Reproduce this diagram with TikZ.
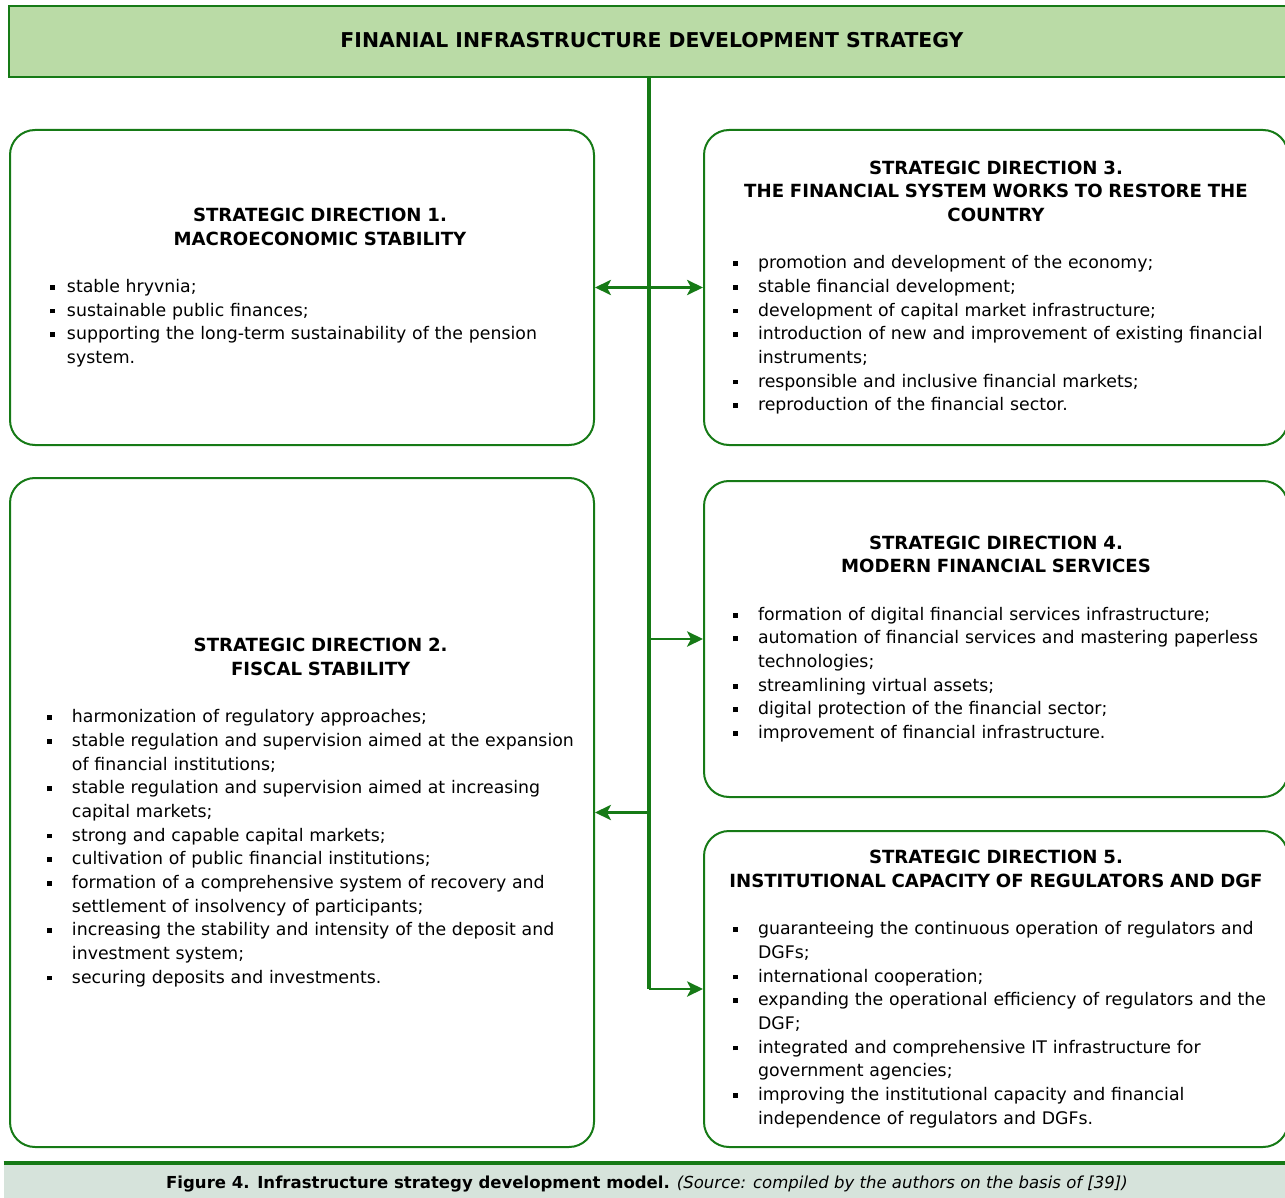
\documentclass[tikz,border=0pt]{standalone}
\usepackage{fontspec}
\setmainfont{DejaVu Sans}
\usetikzlibrary{arrows.meta}

\definecolor{dgreen}{RGB}{22,122,22}
\definecolor{titlefill}{RGB}{186,219,166}
\definecolor{capfill}{RGB}{214,227,219}

% small square bullet and list lines
\newcommand{\bul}{\rule[2pt]{3.6pt}{3.6pt}}
\newcommand{\sqitem}[3]{\par\leftskip=#2\noindent\llap{\bul\hspace{\dimexpr#2-#1-3.6pt\relax}}#3}
\newcommand{\heading}[2]{{\centering\leftskip=#1 plus 1fil\bfseries\fontsize{13.6}{17.75}\selectfont #2\par}\vskip 17.75pt}

\begin{document}
\begin{tikzpicture}[x=0.75pt, y=-0.75pt]

    % Set the canvas size (pixel units)
    \useasboundingbox (0,0) rectangle (1285,1198);

    % Define styles
    \tikzset{
        direction/.style={draw=dgreen, line width=1.5pt, rounded corners=18.75pt,
            minimum width=438pt, text width=438pt, inner xsep=0pt, inner ysep=0pt,
            align=left, font=\fontsize{13}{17.75}\selectfont},
        link/.style={draw=dgreen, line width=1.6pt,
            -{Stealth[length=12pt, width=11.5pt, inset=3pt]}},
        spine/.style={draw=dgreen, line width=2.4pt},
    }

    % Title bar
    \node[draw=dgreen, line width=1.5pt, fill=titlefill, minimum width=964.5pt,
        minimum height=53.25pt, font=\bfseries\fontsize{15.3}{18}\selectfont]
        (title) at (652,41.5) {\raisebox{2pt}{FINANIAL INFRASTRUCTURE DEVELOPMENT STRATEGY}};

    % Left column
    \node[direction, minimum height=236.25pt] (d1) at (302,287.5) {%
        \heading{27pt}{STRATEGIC DIRECTION 1.\\ MACROECONOMIC STABILITY}%
        \sqitem{30pt}{42.75pt}{stable hryvnia;}%
        \sqitem{30pt}{42.75pt}{sustainable public finances;}%
        \sqitem{30pt}{42.75pt}{supporting the long-term sustainability of the pension\newline system.}\par};
    \node[direction, minimum height=501.75pt] (d2) at (302,812.5) {%
        \heading{28pt}{STRATEGIC DIRECTION 2.\\ FISCAL STABILITY}%
        \sqitem{27.75pt}{46.5pt}{harmonization of regulatory approaches;}%
        \sqitem{27.75pt}{46.5pt}{stable regulation and supervision aimed at the expansion\newline of financial institutions;}%
        \sqitem{27.75pt}{46.5pt}{stable regulation and supervision aimed at increasing\newline capital markets;}%
        \sqitem{27.75pt}{46.5pt}{strong and capable capital markets;}%
        \sqitem{27.75pt}{46.5pt}{cultivation of public financial institutions;}%
        \sqitem{27.75pt}{46.5pt}{formation of a comprehensive system of recovery and\newline settlement of insolvency of participants;}%
        \sqitem{27.75pt}{46.5pt}{increasing the stability and intensity of the deposit and\newline investment system;}%
        \sqitem{27.75pt}{46.5pt}{securing deposits and investments.}\par};

    % Right column
    \node[direction, minimum height=236.25pt] (d3) at (996,287.5) {%
        \heading{0pt}{STRATEGIC DIRECTION 3.\\ THE FINANCIAL SYSTEM WORKS TO RESTORE THE\\ COUNTRY}%
        \sqitem{21.75pt}{40.5pt}{promotion and development of the economy;}%
        \sqitem{21.75pt}{40.5pt}{stable financial development;}%
        \sqitem{21.75pt}{40.5pt}{development of capital market infrastructure;}%
        \sqitem{21.75pt}{40.5pt}{introduction of new and improvement of existing financial\newline instruments;}%
        \sqitem{21.75pt}{40.5pt}{responsible and inclusive financial markets;}%
        \sqitem{21.75pt}{40.5pt}{reproduction of the financial sector.}\par};
    \node[direction, minimum height=237pt] (d4) at (996,639) {%
        \heading{0pt}{STRATEGIC DIRECTION 4.\\ MODERN FINANCIAL SERVICES}%
        \sqitem{21.75pt}{40.5pt}{formation of digital financial services infrastructure;}%
        \sqitem{21.75pt}{40.5pt}{automation of financial services and mastering paperless\newline technologies;}%
        \sqitem{21.75pt}{40.5pt}{streamlining virtual assets;}%
        \sqitem{21.75pt}{40.5pt}{digital protection of the financial sector;}%
        \sqitem{21.75pt}{40.5pt}{improvement of financial infrastructure.}\par};
    \node[direction, minimum height=237pt] (d5) at (996,989) {%
        \heading{0pt}{STRATEGIC DIRECTION 5.\\ INSTITUTIONAL CAPACITY OF REGULATORS AND DGF}%
        \sqitem{21.75pt}{40.5pt}{guaranteeing the continuous operation of regulators and\newline DGFs;}%
        \sqitem{21.75pt}{40.5pt}{international cooperation;}%
        \sqitem{21.75pt}{40.5pt}{expanding the operational efficiency of regulators and the\newline DGF;}%
        \sqitem{21.75pt}{40.5pt}{integrated and comprehensive IT infrastructure for\newline government agencies;}%
        \sqitem{21.75pt}{40.5pt}{improving the institutional capacity and financial\newline independence of regulators and DGFs.}\par};

    % Spine and arrows
    \coordinate (spinetop) at (649,77);
    \draw[spine] (spinetop) -- (d5.west -| spinetop);
    \draw[link, {Stealth[length=12pt, width=11.5pt, inset=3pt]}-{Stealth[length=12pt, width=11.5pt, inset=3pt]}] (d1.east) -- (d3.west);
    \draw[link] (d4.west -| spinetop) -- (d4.west);
    \draw[link] (d2.east -| spinetop) -- (d2.east);
    \draw[link] (d5.west -| spinetop) -- (d5.west);

    % Caption bar
    \node[fill=capfill, minimum width=964.5pt, minimum height=31.5pt,
        font=\fontsize{12.4}{15}\selectfont] (caption) at (647,1184)
        {\textbf{Figure 4. Infrastructure strategy development model.} \textit{(Source: compiled by the authors on the basis of [39])}};
    \draw[dgreen, line width=3pt] (caption.north west) -- (caption.north east);

\end{tikzpicture}
\end{document}
